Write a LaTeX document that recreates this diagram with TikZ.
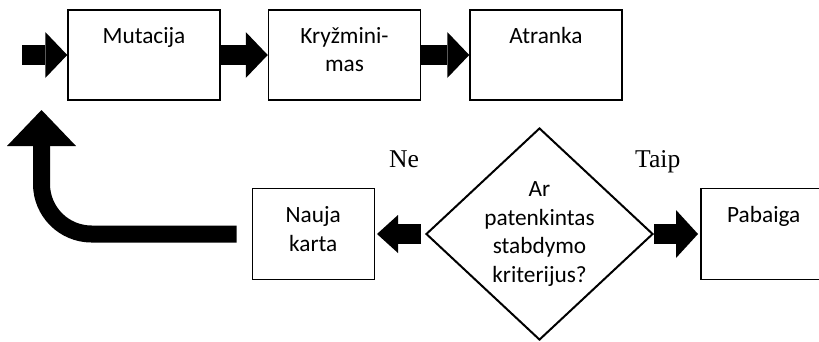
\documentclass[tikz,border=0pt]{standalone}
\usepackage{fontspec}
\setmainfont{Liberation Serif}
\newfontfamily\calibri{Carlito}
\usepackage{tikz}
\usetikzlibrary{positioning,arrows.meta,shapes.geometric}

\newcommand{\boxfont}{\calibri\fontsize{23.3pt}{28.5pt}\selectfont}

\begin{document}
\begin{tikzpicture}[
    x=1pt, y=-1pt,
    box/.style={
        rectangle, draw, line width=1.5pt, inner sep=0pt,
        text width=152pt, align=center, text height=33pt,
        text depth=57pt, font=\boxfont
    },
    smallbox/.style={box, text width=122pt, text height=34pt},
    decision/.style={
        diamond, draw, line width=2pt, inner sep=-10pt,
        minimum width=227pt, minimum height=212pt,
        align=center, font=\boxfont
    },
    answer/.style={font=\fontsize{25.6pt}{30pt}\selectfont, inner sep=0pt},
    arrow/.style={-{Triangle[length=22pt, width=46pt, line width=0pt]}, line width=20pt},
    back/.style={-{Triangle[length=36pt, width=69pt, line width=0pt]}, line width=17pt,
        rounded corners=50pt}
]
\useasboundingbox (0,0) rectangle (819,341);

\node[box] (mut) at (144,55) {Mutacija};
\node[box, right=47pt of mut] (kry) {Kryžmini-\\mas};
\node[box, right=48pt of kry] (atr) {Atranka};

\node[decision] (dia) at (539.5,234) {Ar\\patenkintas\\stabdymo\\kriterijus?};
\node[smallbox, left=50pt of dia] (nau) {Nauja\\karta};
\node[smallbox, text width=126pt, right=46pt of dia] (pab) {Pabaiga};

\node[answer, anchor=base west] (ne) at (389,167) {Ne};
\node[answer, anchor=base west] (taip) at (635,167) {Taip};

\coordinate (start) at (22,55);
\coordinate (top) at (41.5,110);

\draw[arrow] (start) -- (mut.west);
\draw[arrow] (mut) -- (kry);
\draw[arrow] (kry) -- (atr);

\draw[arrow, -{Triangle[length=21pt, width=38pt, line width=0pt]},
      shorten <=4pt, shorten >=2pt] (dia.west) -- (nau.east);
\draw[arrow, -{Triangle[length=22pt, width=48pt, line width=0pt]},
      shorten >=2pt] (dia.east) -- (pab.west);

\draw[back] ([xshift=-15pt]nau.west) -| (top);
\end{tikzpicture}
\end{document}
